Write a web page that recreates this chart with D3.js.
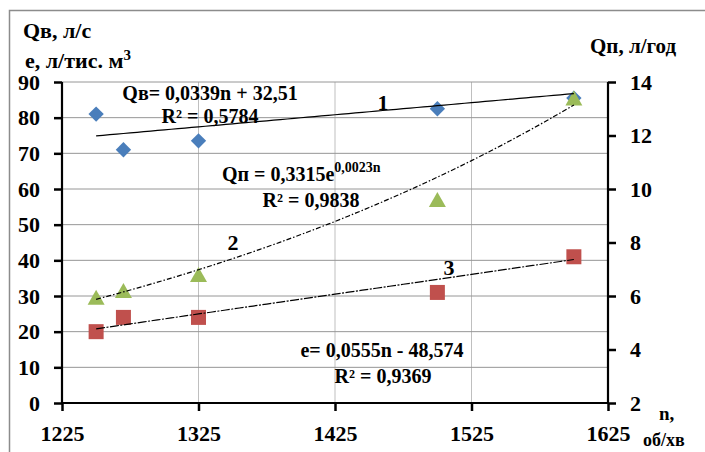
<!DOCTYPE html>
<html><head><meta charset="utf-8">
<script src="https://cdn.jsdelivr.net/npm/d3@7"></script>
<style>body{margin:0;background:#fff}svg text{font-family:"Liberation Serif","DejaVu Serif",serif;font-weight:bold;fill:#000}</style>
</head><body><svg id="c" width="705" height="452"></svg>
<script>
const nValues = [1250, 1270, 1325, 1500, 1600];
const qvValues = [81, 71, 73.5, 82.5, 85.5];
const eValues = [20, 24, 24, 31, 41];
const qpValues = [5.9, 6.15, 6.75, 9.55, 13.35];
const xTicks = [1225, 1325, 1425, 1525, 1625];
const leftTicks = [0, 10, 20, 30, 40, 50, 60, 70, 80, 90];
const rightTicks = [2, 4, 6, 8, 10, 12, 14];
const trendQv = {a: 0.0339, b: 32.51};
const trendQp = {a: 0.3315, k: 0.0023};
const trendE = {a: 0.0555, b: -48.574};

const FONT = '"Liberation Serif","DejaVu Serif",serif';
const svg = d3.select("#c");
const x = d3.scaleLinear().domain([1225, 1625]).range([62, 608]);
const yL = d3.scaleLinear().domain([0, 90]).range([403, 82]);
const yR = d3.scaleLinear().domain([2, 14]).range([403, 82]);

svg.append("rect").attr("x", 9.5).attr("y", 10.5).attr("width", 710).attr("height", 460)
  .attr("fill", "none").attr("stroke", "#8c8c8c").attr("stroke-width", 1.5);

svg.append("g").selectAll("line").data(xTicks.slice(1, -1)).join("line")
  .attr("x1", d => x(d)).attr("x2", d => x(d)).attr("y1", 82).attr("y2", 403)
  .attr("stroke", "#bfbfbf").attr("stroke-width", 1);
svg.append("g").selectAll("line").data(leftTicks.slice(1)).join("line")
  .attr("x1", 62).attr("x2", 608).attr("y1", d => yL(d)).attr("y2", d => yL(d))
  .attr("stroke", "#969696").attr("stroke-width", 1);

const ax = d3.axisBottom(x).tickValues(xTicks).tickSize(8).tickPadding(10).tickFormat(d3.format("d"));
const gx = svg.append("g").attr("transform", "translate(0,403)").call(ax);
const al = d3.axisLeft(yL).tickValues(leftTicks).tickSize(8).tickPadding(10).tickFormat(d3.format("d"));
const gl = svg.append("g").attr("transform", "translate(62,0)").call(al);
const ar = d3.axisRight(yR).tickValues(rightTicks).tickSize(8).tickPadding(14).tickFormat(d3.format("d"));
const gr = svg.append("g").attr("transform", "translate(608,0)").call(ar);
[gx, gl, gr].forEach(g => {
  g.attr("font-family", FONT).attr("font-weight", "bold").attr("font-size", 22);
  g.select(".domain").attr("stroke", "#000").attr("stroke-width", 2.2);
  g.selectAll(".tick line").attr("stroke", "#000").attr("stroke-width", 2.5);
  g.selectAll(".tick text").style("font-family", FONT).style("font-weight", "bold")
    .style("font-size", "22px").attr("fill", "#000");
});
gx.select(".domain").attr("d", "M62,0H608");
gl.select(".domain").attr("d", "M0,82V403");
gr.select(".domain").attr("d", "M0,82V403");
gx.selectAll(".tick text").attr("dy", "0.9em");
gl.selectAll(".tick text").attr("x", -22);

const pts = nValues.map((n, i) => ({n, qv: qvValues[i], e: eValues[i], qp: qpValues[i]}));
svg.append("g").selectAll("path").data(pts).join("path")
  .attr("d", d3.symbol(d3.symbolDiamond2, 150))
  .attr("transform", d => `translate(${x(d.n)},${yL(d.qv)})`).attr("fill", "#4a7ebb");
svg.append("g").selectAll("rect").data(pts).join("rect")
  .attr("x", d => x(d.n) - 7.5).attr("y", d => yL(d.e) - 7.5).attr("width", 15).attr("height", 15)
  .attr("fill", "#c0504d");
svg.append("g").selectAll("path").data(pts).join("path")
  .attr("d", "M0,-9L8.5,6L-8.5,6Z")
  .attr("transform", d => `translate(${x(d.n)},${yR(d.qp)})`).attr("fill", "#9bbb59");

const ns = d3.range(1250, 1600.1, 5);
const line = d3.line();
svg.append("path").attr("d", line(ns.map(n => [x(n), yL(trendQv.a * n + trendQv.b)])))
  .attr("fill", "none").attr("stroke", "#000").attr("stroke-width", 1.2);
svg.append("path").attr("d", line(ns.map(n => [x(n), yR(trendQp.a * Math.exp(trendQp.k * n))])))
  .attr("fill", "none").attr("stroke", "#000").attr("stroke-width", 1.2).attr("stroke-dasharray", "5,2,1.5,2");
svg.append("path").attr("d", line(ns.map(n => [x(n), yL(trendE.a * n + trendE.b)])))
  .attr("fill", "none").attr("stroke", "#000").attr("stroke-width", 1.2).attr("stroke-dasharray", "9,1.5,2,1.5");

function t(str, px, py, size, anchor) {
  return svg.append("text").attr("x", px).attr("y", py)
    .style("font-family", FONT).style("font-weight", "bold").style("font-size", size + "px")
    .attr("text-anchor", anchor || "start").text(str);
}
t("Qв, л/с", 23, 38, 22);
const e1 = t("e, л/тис. м", 25, 68, 22);
e1.append("tspan").attr("dy", -8).style("font-size", "15px").text("3");
t("Qп, л/год", 590, 53, 21);
t("n,", 659, 420, 19);
t("об/хв", 643, 446, 18);
t("Qв= 0,0339n + 32,51", 210, 100, 20, "middle");
t("R² = 0,5784", 210, 123, 20, "middle");
const q = t("Qп = 0,3315e", 222, 181, 20);
q.append("tspan").attr("dy", -9).style("font-size", "14px").text("0,0023n");
t("R² = 0,9838", 311, 207, 20, "middle");
t("e= 0,0555n - 48,574", 382, 357, 20, "middle");
t("R² = 0,9369", 383, 383, 20, "middle");
t("1", 383, 110, 22, "middle");
t("2", 233, 250, 22, "middle");
t("3", 449, 275, 22, "middle");
</script></body></html>
